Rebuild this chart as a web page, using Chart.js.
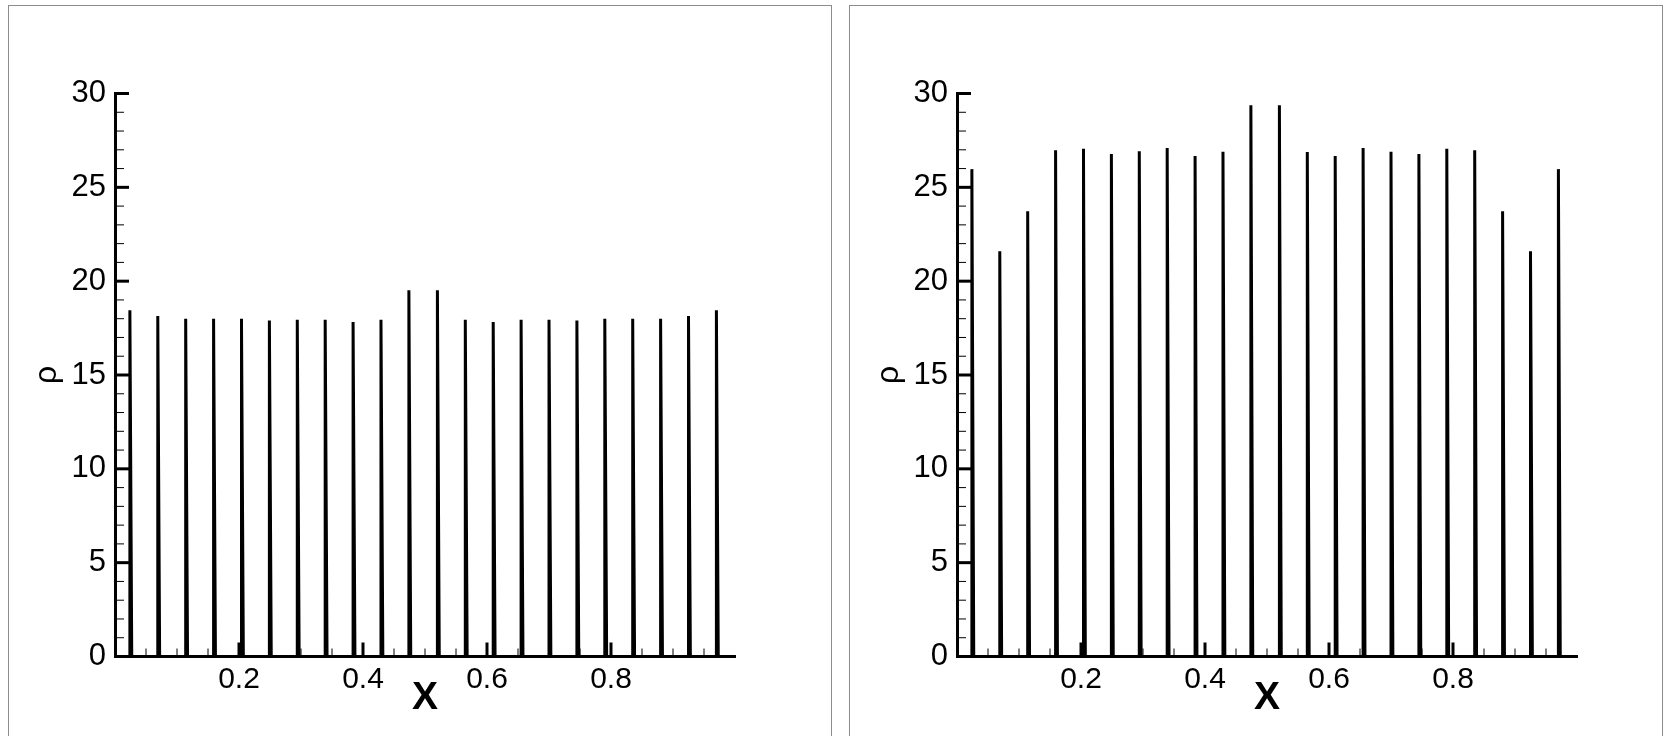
<!DOCTYPE html>
<html>
<head>
<meta charset="utf-8">
<script src="https://cdn.jsdelivr.net/npm/chart.js@4.4.0/dist/chart.umd.min.js"></script>
<style>
body { margin: 0; width: 1669px; height: 736px; overflow: hidden; background: #fff; position: relative; }
.frame { position: absolute; top: 5px; height: 760px; border: 1px solid #8c8c8c; }
canvas { position: absolute; top: 0; }
</style>
</head>
<body>
<div class="frame" style="left:8px;width:822px"></div>
<div class="frame" style="left:849px;width:812px"></div>
<canvas id="left-chart" width="830" height="736" style="left:0"></canvas>
<canvas id="right-chart" width="830" height="736" style="left:842px"></canvas>
<script>
// spike positions along X
const spikeX = [0.024, 0.069, 0.114, 0.159, 0.204, 0.249, 0.294, 0.339, 0.384, 0.429, 0.474,
                0.520, 0.565, 0.610, 0.655, 0.700, 0.745, 0.790, 0.835, 0.880, 0.925, 0.970];
const rhoLeft = [18.45, 18.15, 18.0, 18.0, 18.0, 17.9, 17.95, 17.95, 17.83, 17.95, 19.52,
                 19.52, 17.95, 17.83, 17.95, 17.95, 17.9, 18.0, 18.0, 18.0, 18.15, 18.45];
const rhoRight = [25.97, 21.6, 23.72, 26.98, 27.05, 26.78, 26.92, 27.1, 26.67, 26.89, 29.38,
                  29.38, 26.88, 26.67, 27.1, 26.9, 26.78, 27.05, 26.98, 23.72, 21.6, 25.97];
const xTickLabels = [0.2, 0.4, 0.6, 0.8];
const yMin = 0, yMax = 30, yStep = 5;

const fontFamily = '"Liberation Sans", Arial, Helvetica, sans-serif';
const spikeBase = 0.003;

function spikeLine(peaks) {
    const pts = [{x: 0, y: 0}];
    spikeX.forEach((x, i) => {
        pts.push({x: x, y: 0});
        pts.push({x: x, y: peaks[i]});
        pts.push({x: x + spikeBase, y: 0});
    });
    pts.push({x: 1, y: 0});
    return pts;
}

// tecplot style ticks pointing into the plot
const inwardTicks = {
    id: 'inwardTicks',
    afterDraw(chart) {
        const ctx = chart.ctx;
        const xs = chart.scales.x;
        const ys = chart.scales.y;
        const left = chart.chartArea.left;
        const bottom = chart.chartArea.bottom;
        ctx.save();
        ctx.strokeStyle = '#000';
        for (let v = yMin; v <= yMax; v++) {
            const y = ys.getPixelForValue(v);
            const major = v % yStep === 0;
            ctx.lineWidth = major ? 3 : 1;
            ctx.beginPath();
            ctx.moveTo(left, y);
            ctx.lineTo(left + (major ? 14 : 9), y);
            ctx.stroke();
        }
        for (let i = 1; i < 20; i++) {
            const x = xs.getPixelForValue(i * 0.05);
            const major = i % 4 === 0;
            ctx.lineWidth = major ? 3 : 1;
            ctx.beginPath();
            ctx.moveTo(x, bottom);
            ctx.lineTo(x, bottom - (major ? 14 : 8));
            ctx.stroke();
        }
        ctx.restore();
    }
};

function makeChart(id, peaks) {
    return new Chart(document.getElementById(id), {
        type: 'scatter',
        data: {
            datasets: [{
                data: spikeLine(peaks),
                showLine: true,
                borderColor: '#000',
                borderWidth: 3,
                borderJoinStyle: 'bevel',
                pointRadius: 0,
                tension: 0
            }]
        },
        options: {
            responsive: false,
            animation: false,
            devicePixelRatio: 1,
            layout: { padding: { left: 26, right: 95, top: 93.5, bottom: 10 } },
            plugins: { legend: { display: false }, tooltip: { enabled: false } },
            scales: {
                x: {
                    type: 'linear',
                    min: 0,
                    max: 1,
                    afterBuildTicks: s => { s.ticks = xTickLabels.map(v => ({ value: v })); },
                    afterFit: s => { s.height = 69.5; },
                    grid: { display: false, drawTicks: false },
                    border: { display: true, width: 3, color: '#000' },
                    ticks: {
                        color: '#000',
                        font: { family: fontFamily, size: 30 },
                        padding: 5,
                        maxRotation: 0,
                        callback: v => v.toFixed(1)
                    },
                    title: {
                        display: true,
                        text: 'X',
                        color: '#000',
                        font: { family: fontFamily, size: 39, weight: 'bold' },
                        padding: { top: 0, bottom: 4 }
                    }
                },
                y: {
                    min: yMin,
                    max: yMax,
                    afterFit: s => { s.width = 89; },
                    grid: { display: false, drawTicks: false },
                    border: { display: true, width: 3, color: '#000' },
                    ticks: {
                        stepSize: yStep,
                        color: '#000',
                        font: { family: fontFamily, size: 31 },
                        padding: 9
                    },
                    title: {
                        display: true,
                        text: 'ρ',
                        color: '#000',
                        font: { family: fontFamily, size: 32 },
                        padding: { top: 2, bottom: 0 }
                    }
                }
            }
        },
        plugins: [inwardTicks]
    });
}

makeChart('left-chart', rhoLeft);
makeChart('right-chart', rhoRight);
</script>
</body>
</html>
